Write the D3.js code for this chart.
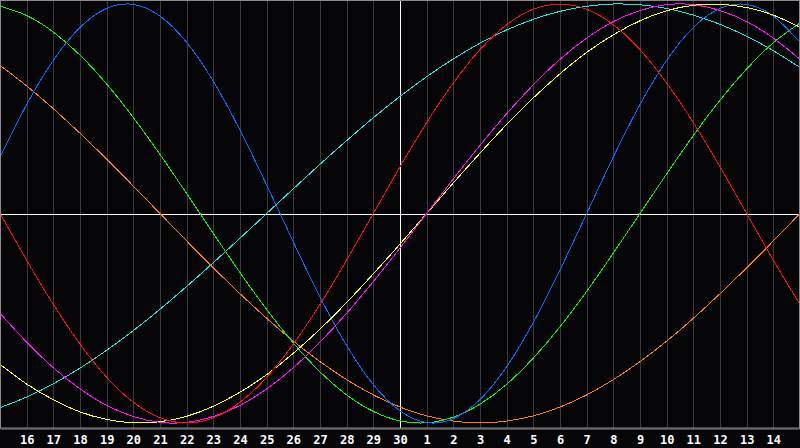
<!DOCTYPE html>
<html>
<head>
<meta charset="utf-8">
<script src="https://cdn.jsdelivr.net/npm/d3@7"></script>
<style>
  html, body { margin: 0; padding: 0; background: #050508; }
  svg { display: block; }
</style>
</head>
<body>
<div id="chart"></div>
<script>
/*******************************************************
 *                       Data                          *
 *******************************************************/

// day labels from the 15th of one month to the 15th of the next
const dayLabels = [15, 16, 17, 18, 19, 20, 21, 22, 23, 24, 25, 26, 27, 28, 29, 30,
  1, 2, 3, 4, 5, 6, 7, 8, 9, 10, 11, 12, 13, 14, 15];

// cycle values in percent, one per day
const physical = [27.0, 52.0, 73.1, 88.8, 97.9, 99.8, 94.2, 81.7, 63.1, 39.8, 13.6, -13.6, -39.8,
  -63.1, -81.7, -94.2, -99.8, -97.9, -88.8, -73.1, -52.0, -27.0, 0, 27.0, 52.0, 73.1, 88.8, 97.9,
  99.8, 94.2, 81.7];
const emotional = [0, -22.3, -43.4, -62.3, -78.2, -90.1, -97.5, -100, -97.5, -90.1, -78.2, -62.3,
  -43.4, -22.3, 0, 22.3, 43.4, 62.3, 78.2, 90.1, 97.5, 100, 97.5, 90.1, 78.2, 62.3, 43.4, 22.3, 0,
  -22.3, -43.4];
const intellectual = [99.0, 94.5, 86.6, 75.6, 61.8, 45.8, 28.2, 9.5, -9.5, -28.2, -45.8, -61.8,
  -75.6, -86.6, -94.5, -99.0, -99.9, -97.2, -91.0, -81.5, -69.0, -54.1, -37.2, -18.9, 0, 18.9,
  37.2, 54.1, 69.0, 81.5, 91.0];
const intuitive = [-47.6, -61.4, -73.6, -83.7, -91.6, -96.9, -99.7, -99.7, -96.9, -91.6, -83.7,
  -73.6, -61.4, -47.6, -32.5, -16.5, 0, 16.5, 32.5, 47.6, 61.4, 73.6, 83.7, 91.6, 96.9, 99.7, 99.7,
  96.9, 91.6, 83.7, 73.6];
const aesthetic = [-72.0, -81.4, -88.9, -94.7, -98.3, -99.9, -99.4, -96.8, -92.0, -85.3, -76.9,
  -66.7, -55.2, -42.5, -28.8, -14.6, 0, 14.6, 28.8, 42.5, 55.2, 66.7, 76.9, 85.3, 92.0, 96.8, 99.4,
  99.9, 98.3, 94.7, 88.9];
const awareness = [70.7, 60.9, 50.0, 38.3, 25.9, 13.1, 0, -13.1, -25.9, -38.3, -50.0, -60.9, -70.7,
  -79.3, -86.6, -92.4, -96.6, -99.1, -100, -99.1, -96.6, -92.4, -86.6, -79.3, -70.7, -60.9, -50.0,
  -38.3, -25.9, -13.1, 0];
const spiritual = [-92.7, -87.6, -81.3, -73.8, -65.3, -55.9, -45.7, -34.8, -23.5, -11.8, 0, 11.8,
  23.5, 34.8, 45.7, 55.9, 65.3, 73.8, 81.3, 87.6, 92.7, 96.5, 98.9, 100.0, 99.6, 97.9, 94.7, 90.3,
  84.6, 77.7, 69.7];

const cycleNames = ["spiritual", "awareness", "intellectual", "physical", "aesthetic", "intuitive", "emotional"];
const cycleValues = [spiritual, awareness, intellectual, physical, aesthetic, intuitive, emotional];
const cycleColours = ["#18e8e8", "#ff7a10", "#10f010", "#0a6cff", "#ffff10", "#ff10ff", "#ff1010"];

const todayIndex = 15;

/*******************************************************
 *                      Chart                          *
 *******************************************************/

const w = 800,
  h = 448,
  plotH = 428;

const x = d3.scaleLinear().domain([0, dayLabels.length - 1]).range([0, w]);
const y = d3.scaleLinear().domain([-100, 100]).range([423, 4]);

const svg = d3
  .select("#chart")
  .append("svg")
  .attr("width", w)
  .attr("height", h);

svg.append("rect")
  .attr("width", w)
  .attr("height", h)
  .attr("fill", "#050508");

// vertical day lines
svg.append("g")
  .selectAll("line")
  .data(d3.range(1, dayLabels.length - 1))
  .enter()
  .append("line")
  .attr("x1", (d) => Math.round(x(d)) + 0.5)
  .attr("x2", (d) => Math.round(x(d)) + 0.5)
  .attr("y1", 0)
  .attr("y2", plotH)
  .attr("stroke", (d) => (d === todayIndex ? "#ffffff" : "#3a3a3c"))
  .attr("stroke-width", 1);

// zero line
svg.append("line")
  .attr("x1", 0)
  .attr("x2", w)
  .attr("y1", Math.round(y(0)) + 0.5)
  .attr("y2", Math.round(y(0)) + 0.5)
  .attr("stroke", "#ffffff")
  .attr("stroke-width", 1);

const line = d3
  .line()
  .x((d, i) => x(i))
  .y((d) => y(d))
  .curve(d3.curveNatural);

svg.append("g")
  .selectAll("path")
  .data(cycleValues)
  .enter()
  .append("path")
  .attr("class", (d, i) => "cycle " + cycleNames[i])
  .attr("d", line)
  .attr("fill", "none")
  .attr("stroke", (d, i) => cycleColours[i])
  .attr("stroke-width", 1)
  .attr("shape-rendering", "crispEdges");

// frame
svg.append("rect")
  .attr("x", 0.5)
  .attr("y", 0.5)
  .attr("width", w - 1)
  .attr("height", plotH - 0.5)
  .attr("fill", "none")
  .attr("stroke", "#8a8a8a")
  .attr("stroke-width", 1);

// day axis
const axis = d3
  .axisBottom(x)
  .tickValues(d3.range(1, dayLabels.length - 1))
  .tickFormat((d) => dayLabels[d])
  .tickSize(0);

const axisG = svg.append("g")
  .attr("transform", "translate(0," + (plotH + 0.5) + ")")
  .call(axis);

axisG.select(".domain").attr("stroke", "#8a8a8a");
axisG.selectAll("text")
  .attr("y", 15)
  .attr("dy", 0)
  .attr("fill", "#ffffff")
  .attr("font-family", "'DejaVu Sans Mono', monospace")
  .attr("font-weight", "bold")
  .attr("font-size", 12);
</script>
</body>
</html>
